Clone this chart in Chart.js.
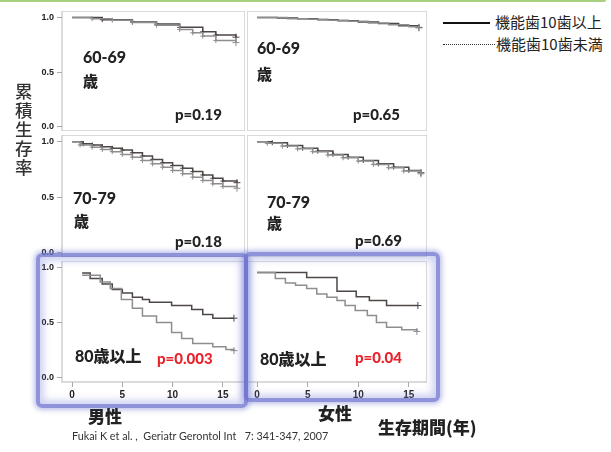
<!DOCTYPE html>
<html>
<head>
<meta charset="utf-8">
<script src="https://cdn.jsdelivr.net/npm/chart.js@4.4.1/dist/chart.umd.min.js"></script>
<style>
  body { margin:0; background:#fff; width:611px; height:452px; position:relative; overflow:hidden; font-family:"Noto Sans CJK JP", sans-serif; }
  canvas { position:absolute; }
  .lbl { position:absolute; font-family:Lato, "Noto Sans CJK JP", sans-serif; font-weight:900; color:#222; white-space:nowrap; line-height:1; }
  .cjk { font-family:"Noto Sans CJK JP", sans-serif; }
  .red { color:#e8232b; }
  .frame { position:absolute; box-sizing:border-box; border:4px solid rgba(105,112,205,0.75); border-radius:6px;
           box-shadow:0 0 5px 2px rgba(110,118,210,0.45), inset 0 0 7px 4px rgba(120,128,215,0.35); }
</style>
</head>
<body>

<div style="position:absolute;left:0;top:0;width:606px;height:2px;background:#a8d27f;border-bottom-right-radius:2px;"></div>

<canvas id="c1" width="213" height="120" style="left:32px;top:11px"></canvas>
<canvas id="c2" width="180" height="120" style="left:247px;top:11px"></canvas>
<canvas id="c3" width="213" height="122" style="left:32px;top:135px"></canvas>
<canvas id="c4" width="180" height="122" style="left:247px;top:135px"></canvas>
<canvas id="c5" width="213" height="141" style="left:32px;top:261px"></canvas>
<canvas id="c6" width="180" height="141" style="left:247px;top:261px"></canvas>

<div class="frame" style="left:36px;top:253px;width:212px;height:155px"></div>
<div class="frame" style="left:244px;top:252px;width:196px;height:150px"></div>

<!-- y axis title -->
<div class="cjk" style="position:absolute;left:15px;top:81px;font-size:17.5px;line-height:19px;color:#333;font-weight:500;">累<br>積<br>生<br>存<br>率</div>

<!-- legend -->
<div style="position:absolute;left:443px;top:22px;width:47px;height:2px;background:#111;"></div>
<div class="cjk" style="position:absolute;left:495px;top:14px;font-size:15px;line-height:1;color:#222;">機能歯10歯以上</div>
<div style="position:absolute;left:443px;top:44px;width:52px;height:0;border-top:1px dotted #333;"></div>
<div class="cjk" style="position:absolute;left:496px;top:36px;font-size:15px;line-height:1;color:#222;">機能歯10歯未満</div>

<!-- panel labels -->
<div class="lbl" style="left:83px;top:49px;font-size:16px">60-69</div>
<div class="lbl cjk" style="left:83px;top:73px;font-size:15px">歳</div>
<div class="lbl" style="left:175px;top:107px;font-size:15px">p=0.19</div>

<div class="lbl" style="left:257px;top:40px;font-size:16px">60-69</div>
<div class="lbl cjk" style="left:257px;top:66px;font-size:15px">歳</div>
<div class="lbl" style="left:353px;top:107px;font-size:15px">p=0.65</div>

<div class="lbl" style="left:73px;top:190px;font-size:16px">70-79</div>
<div class="lbl cjk" style="left:74px;top:213px;font-size:15px">歳</div>
<div class="lbl" style="left:175px;top:234px;font-size:15px">p=0.18</div>

<div class="lbl" style="left:267px;top:194px;font-size:16px">70-79</div>
<div class="lbl cjk" style="left:267px;top:215px;font-size:15px">歳</div>
<div class="lbl" style="left:355px;top:233px;font-size:15px">p=0.69</div>

<div class="lbl" style="left:75px;top:348px;font-size:16px">80歳以上</div>
<div class="lbl red" style="left:157px;top:351px;font-size:15px">p=0.003</div>

<div class="lbl" style="left:260px;top:351px;font-size:16px">80歳以上</div>
<div class="lbl red" style="left:355px;top:350px;font-size:15px">p=0.04</div>

<!-- bottom texts -->
<div class="lbl cjk" style="left:88px;top:407px;font-size:17px">男性</div>
<div class="lbl cjk" style="left:318px;top:404px;font-size:17px">女性</div>
<div class="lbl cjk" style="left:378px;top:418px;font-size:17px">生存期間(年)</div>
<div style="position:absolute;left:72px;top:431px;font-family:Lato, sans-serif;font-size:10.8px;color:#333;white-space:nowrap;line-height:1;">Fukai K et al. ,&nbsp; Geriatr Gerontol Int &nbsp;&nbsp;7: 341-347, 2007</div>

<script>
// tick labels
var xTicks = [0, 5, 10, 15];
var yTicks = [0, 0.5, 1.0];
var seriesNames = ['機能歯10歯以上', '機能歯10歯未満'];

// [years, cumulative survival]
var male6069Hi = [[0,1.0],[3,0.98],[6,0.96],[8.4,0.94],[10.7,0.91],[13,0.87],[14.3,0.84],[16.3,0.82]];
var male6069Lo = [[0,1.0],[2,0.99],[4,0.975],[6,0.955],[8.4,0.93],[10.7,0.89],[12,0.86],[13,0.83],[14.3,0.79],[16.3,0.77]];
var female6069Hi = [[0,1.0],[2,0.995],[4,0.99],[6,0.98],[8,0.97],[10,0.96],[12,0.945],[14,0.925],[16,0.91]];
var female6069Lo = [[0,1.0],[3,0.99],[5,0.985],[7,0.975],[9,0.965],[11,0.95],[13,0.935],[15,0.915],[16,0.905]];

var male7079Hi = [[0,1.0],[1.1,0.98],[2,0.97],[3,0.955],[4,0.94],[5,0.925],[6,0.9],[7,0.87],[8,0.84],[9,0.81],[10,0.785],[11,0.76],[12,0.73],[13,0.7],[14,0.67],[15,0.645],[16.4,0.63]];
var male7079Lo = [[0,1.0],[0.8,0.97],[2,0.95],[3,0.93],[4,0.91],[5,0.885],[6,0.86],[7,0.83],[8,0.8],[9,0.77],[10,0.74],[11,0.71],[12,0.68],[13,0.65],[14,0.62],[15,0.595],[16.4,0.58]];
var female7079Hi = [[0,1.0],[1.5,0.99],[3,0.965],[4.5,0.94],[6,0.915],[7.5,0.885],[9,0.86],[10.5,0.83],[12,0.8],[13.5,0.77],[15,0.74],[16.2,0.72]];
var female7079Lo = [[0,1.0],[1,0.985],[2.5,0.96],[4,0.935],[5.5,0.91],[7,0.88],[8.5,0.855],[10,0.825],[11.5,0.795],[13,0.765],[14.5,0.735],[16.2,0.71]];

var male80Hi = [[1,0.95],[1.8,0.9],[3,0.85],[4,0.8],[5,0.77],[6,0.73],[7,0.71],[7.7,0.685],[9.9,0.655],[11.9,0.62],[13,0.573],[14,0.54],[16.1,0.54]];
var male80Lo = [[1,0.93],[2.8,0.87],[3.8,0.81],[4.9,0.71],[6,0.63],[7,0.56],[8.4,0.5],[9.9,0.41],[10.9,0.355],[12,0.31],[14,0.28],[15.3,0.255],[16.1,0.245]];
var female80Hi = [[0,0.955],[4.9,0.91],[7.9,0.785],[9.8,0.735],[11.1,0.70],[12.8,0.655],[15.9,0.655]];
var female80Lo = [[0,0.955],[1.8,0.9],[2.8,0.86],[3.8,0.84],[4.9,0.81],[5.9,0.76],[6.9,0.73],[7.9,0.70],[8.7,0.655],[9.7,0.61],[10.9,0.564],[11.8,0.50],[12.8,0.457],[14.3,0.436],[15.8,0.42]];

var boxPlugin = {
  id: 'box',
  beforeDraw: function(c) {
    var a = c.chartArea, ctx = c.ctx;
    ctx.save();
    ctx.fillStyle = '#fff';
    ctx.fillRect(a.left, a.top, a.width, a.height);
    ctx.strokeStyle = '#cfcfcf';
    ctx.lineWidth = 1.5;
    ctx.strokeRect(a.left, a.top, a.width, a.height);
    ctx.restore();
  }
};

function toPts(arr) {
  return arr.map(function(p) { return {x: p[0], y: p[1]}; });
}

function makePanel(id, hi, lo, showY, showX, xMax, allMarks) {
  function ds(arr, i, color) {
    var n = arr.length;
    return {
      label: seriesNames[i],
      data: toPts(arr),
      stepped: true,
      borderColor: color,
      borderWidth: 1.5,
      fill: false,
      pointStyle: 'cross',
      pointBorderColor: color,
      pointBorderWidth: 1,
      pointRadius: function(ctx) {
        if (ctx.dataIndex === n - 1) return 3.5;
        return (allMarks && ctx.dataIndex > 0) ? 2.5 : 0;
      }
    };
  }
  new Chart(document.getElementById(id), {
    type: 'line',
    data: { datasets: [ds(lo, 1, '#8e8e8e'), ds(hi, 0, '#4d4745')] },
    options: {
      responsive: false,
      animation: false,
      layout: { padding: 0, autoPadding: false },
      plugins: { legend: { display: false }, tooltip: { enabled: false } },
      scales: {
        x: {
          type: 'linear', min: -1, max: xMax,
          display: showX,
          afterBuildTicks: function(s) { s.ticks = xTicks.map(function(v) { return {value: v}; }); },
          afterFit: function(s) { if (showX) { s.height = 20; s.paddingLeft = 0; s.paddingRight = 0; } },
          grid: { drawOnChartArea: false, tickLength: 5, color: '#aaa' },
          border: { display: false },
          ticks: { color: '#222', padding: 2, font: { family: 'Liberation Sans', weight: 'bold', size: 10 } }
        },
        y: {
          type: 'linear', min: -0.04, max: 1.06,
          display: showY,
          afterBuildTicks: function(s) { s.ticks = yTicks.map(function(v) { return {value: v}; }); },
          afterFit: function(s) { if (showY) { s.width = 30; s.paddingTop = 0; s.paddingBottom = 0; } },
          grid: { drawOnChartArea: false, tickLength: 5, color: '#aaa' },
          border: { display: false },
          ticks: { color: '#222', padding: 3, font: { family: 'Liberation Sans', weight: 'bold', size: 9 },
                   callback: function(v) { return v.toFixed(1); } }
        }
      }
    },
    plugins: [boxPlugin]
  });
}

makePanel('c1', male6069Hi, male6069Lo, true, false, 17.2, true);
makePanel('c2', female6069Hi, female6069Lo, false, false, 16.8, false);
makePanel('c3', male7079Hi, male7079Lo, true, false, 17.2, true);
makePanel('c4', female7079Hi, female7079Lo, false, false, 16.8, true);
makePanel('c5', male80Hi, male80Lo, true, true, 17.2, false);
makePanel('c6', female80Hi, female80Lo, false, true, 16.8, false);
</script>
</body>
</html>
